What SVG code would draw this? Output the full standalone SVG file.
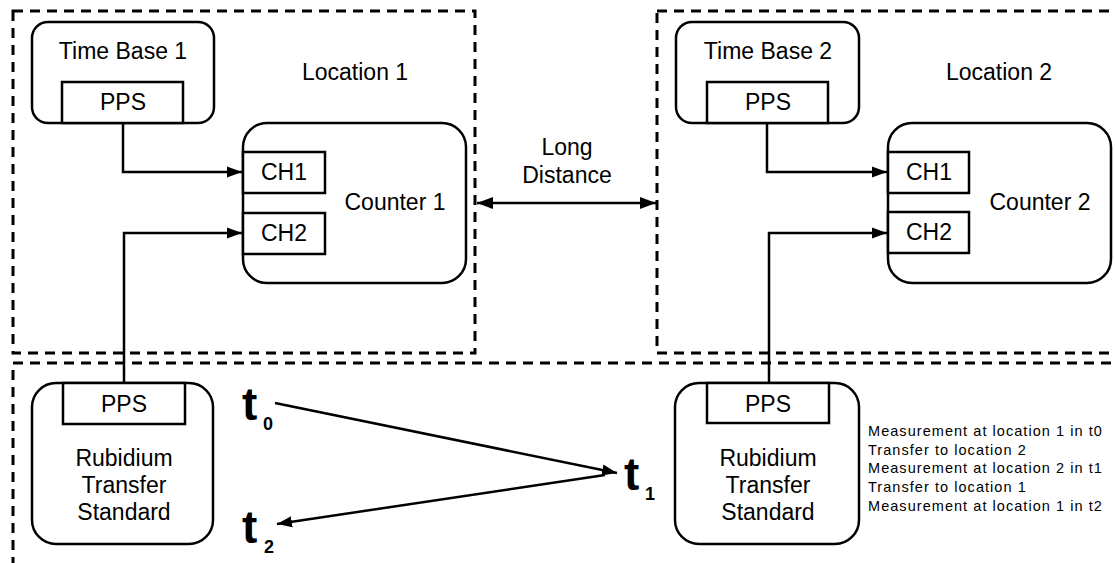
<svg xmlns="http://www.w3.org/2000/svg" width="1115" height="563" viewBox="0 0 1115 563">
  <style>
    .zone { fill: none; stroke: #000; stroke-width: 3; stroke-dasharray: 10 7; }
    .box { fill: #fff; stroke: #000; stroke-width: 2.5; }
    .port { fill: #fff; stroke: #000; stroke-width: 2.5; }
    .wire { fill: none; stroke: #000; stroke-width: 2.5; }
    .lbl { font-family: "Liberation Sans", Arial, sans-serif; font-size: 23px; fill: #000; }
    .mid { text-anchor: middle; }
    .tbig { font-family: "Liberation Sans", Arial, sans-serif; font-weight: bold; font-size: 46px; fill: #000; }
    .tsub { font-family: "Liberation Sans", Arial, sans-serif; font-weight: bold; font-size: 18px; fill: #000; }
    .note { font-family: "Liberation Sans", Arial, sans-serif; font-size: 14.5px; letter-spacing: 1.05px; fill: #000; }
  </style>
  <defs>
    <marker id="arrow" markerUnits="userSpaceOnUse" markerWidth="16" markerHeight="12" refX="15" refY="6" orient="auto">
      <path d="M0,0.5 L15,6 L0,11.5 z" fill="#000"/>
    </marker>
    <marker id="arrow-start" markerUnits="userSpaceOnUse" markerWidth="17" markerHeight="13" refX="1" refY="6.5" orient="auto">
      <path d="M17,0.5 L1,6.5 L17,12.5 z" fill="#000"/>
    </marker>
    <marker id="arrow-big" markerUnits="userSpaceOnUse" markerWidth="17" markerHeight="13" refX="16" refY="6.5" orient="auto">
      <path d="M0,0.5 L16,6.5 L0,12.5 z" fill="#000"/>
    </marker>
  </defs>

  <rect width="1115" height="563" fill="#fff"/>

  <!-- location zones -->
  <g id="location-1">
    <rect class="zone" x="13" y="11" width="462" height="342"/>
    <text class="lbl" x="302" y="80">Location 1</text>
  </g>
  <g id="location-2">
    <rect class="zone" x="657" y="11" width="480" height="342"/>
    <text class="lbl" x="946" y="80">Location 2</text>
  </g>
  <g id="transfer-zone">
    <rect class="zone" x="13" y="363" width="1130" height="230"/>
  </g>

  <!-- connectors -->
  <g id="connectors">
    <path class="wire" d="M123,123 V172 H242" marker-end="url(#arrow)"/>
    <path class="wire" d="M124,383 V233 H242" marker-end="url(#arrow)"/>
    <path class="wire" d="M767,123 V172 H887" marker-end="url(#arrow)"/>
    <path class="wire" d="M769,383 V233 H887" marker-end="url(#arrow)"/>
    <line class="wire" x1="477" y1="203" x2="656" y2="203" marker-start="url(#arrow-start)" marker-end="url(#arrow-big)"/>
    <line class="wire" x1="275" y1="403" x2="617" y2="473" marker-end="url(#arrow)"/>
    <line class="wire" x1="605" y1="475" x2="277" y2="524" marker-end="url(#arrow)"/>
  </g>

  <text class="lbl mid" x="567" y="155">Long</text>
  <text class="lbl mid" x="567" y="183">Distance</text>

  <!-- location 1 equipment -->
  <g id="time-base-1">
    <rect class="box" x="32" y="22" width="182" height="101" rx="16"/>
    <text class="lbl mid" x="123" y="59">Time Base 1</text>
    <rect class="port" x="62" y="82" width="121" height="41"/>
    <text class="lbl mid" x="123" y="110">PPS</text>
  </g>
  <g id="counter-1">
    <rect class="box" x="243" y="123" width="223" height="160" rx="24"/>
    <rect class="port" x="243" y="152" width="82" height="41"/>
    <text class="lbl mid" x="284" y="180">CH1</text>
    <rect class="port" x="243" y="213" width="82" height="41"/>
    <text class="lbl mid" x="284" y="241">CH2</text>
    <text class="lbl mid" x="395" y="210">Counter 1</text>
  </g>

  <!-- location 2 equipment -->
  <g id="time-base-2">
    <rect class="box" x="676" y="22" width="183" height="101" rx="16"/>
    <text class="lbl mid" x="768" y="59">Time Base 2</text>
    <rect class="port" x="707" y="82" width="121" height="41"/>
    <text class="lbl mid" x="768" y="110">PPS</text>
  </g>
  <g id="counter-2">
    <rect class="box" x="888" y="123" width="223" height="160" rx="24"/>
    <rect class="port" x="888" y="152" width="81" height="41"/>
    <text class="lbl mid" x="929" y="180">CH1</text>
    <rect class="port" x="888" y="212" width="81" height="41"/>
    <text class="lbl mid" x="929" y="240">CH2</text>
    <text class="lbl mid" x="1040" y="210">Counter 2</text>
  </g>

  <!-- transfer standards -->
  <g id="rubidium-1">
    <rect class="box" x="32" y="383" width="181" height="161" rx="24"/>
    <rect class="port" x="63" y="383" width="122" height="41"/>
    <text class="lbl mid" x="124" y="412">PPS</text>
    <text class="lbl mid" x="124" y="466">Rubidium</text>
    <text class="lbl mid" x="124" y="493">Transfer</text>
    <text class="lbl mid" x="124" y="520">Standard</text>
  </g>
  <g id="rubidium-2">
    <rect class="box" x="675" y="383" width="184" height="161" rx="24"/>
    <rect class="port" x="707" y="383" width="122" height="40"/>
    <text class="lbl mid" x="768" y="412">PPS</text>
    <text class="lbl mid" x="768" y="466">Rubidium</text>
    <text class="lbl mid" x="768" y="493">Transfer</text>
    <text class="lbl mid" x="768" y="520">Standard</text>
  </g>

  <!-- time instants -->
  <g id="t0">
    <text class="tbig" x="242" y="420">t</text>
    <text class="tsub" x="263" y="430">0</text>
  </g>
  <g id="t1">
    <text class="tbig" x="624" y="490">t</text>
    <text class="tsub" x="645" y="500">1</text>
  </g>
  <g id="t2">
    <text class="tbig" x="242" y="543">t</text>
    <text class="tsub" x="264" y="553">2</text>
  </g>

  <!-- procedure -->
  <g id="procedure">
    <text class="note" x="868" y="436">Measurement at location 1 in t0</text>
    <text class="note" x="868" y="455">Transfer to location 2</text>
    <text class="note" x="868" y="473">Measurement at location 2 in t1</text>
    <text class="note" x="868" y="492">Transfer to location 1</text>
    <text class="note" x="868" y="511">Measurement at location 1 in t2</text>
  </g>
</svg>
